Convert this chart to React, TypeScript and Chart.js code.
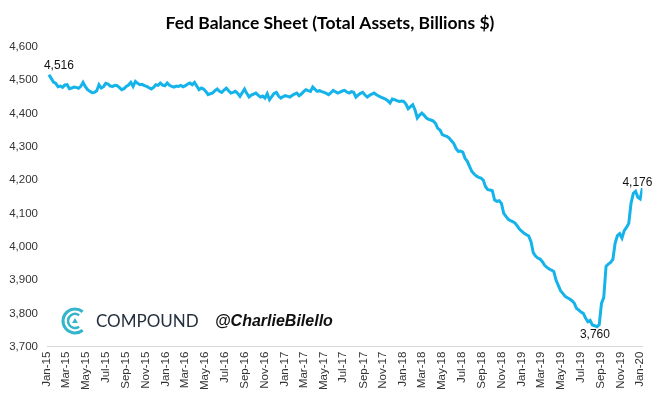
import { useEffect, useRef } from "react";
import { Chart, registerables } from "chart.js";

Chart.register(...registerables);

const chartTitle = "Fed Balance Sheet (Total Assets, Billions $)";
const brandName = "COMPOUND";
const brandHandle = "@CharlieBilello";

// first weekly observation: Wed Jan 7, 2015 (days after Jan 1, 2015)
const firstObsDay = 6;
const weekStep = 7;
const axisEndDay = 1833;

// weekly total assets, billions $ (Jan 2015 – Jan 2020)
const totalAssets: number[] = [
  4516, 4505, 4494, 4490, 4480, 4482, 4478, 4485, 4486, 4474,
  4476, 4479, 4478, 4475, 4481, 4493, 4480, 4471, 4466, 4462,
  4463, 4468, 4486, 4476, 4480, 4490, 4488, 4482, 4481, 4484,
  4483, 4477, 4471, 4474, 4481, 4485, 4493, 4481, 4496, 4490,
  4486, 4487, 4483, 4481, 4477, 4473, 4478, 4486, 4484, 4491,
  4485, 4483, 4491, 4484, 4481, 4479, 4482, 4481, 4484, 4480,
  4483, 4488, 4491, 4486, 4493, 4482, 4471, 4476, 4473, 4466,
  4456, 4459, 4461, 4468, 4473, 4466, 4463, 4470, 4476, 4468,
  4461, 4463, 4466, 4460, 4451, 4462, 4473, 4460, 4449, 4455,
  4458, 4461, 4455, 4449, 4452, 4446, 4459, 4441, 4450, 4460,
  4463, 4452, 4446, 4450, 4453, 4451, 4449, 4454, 4458, 4461,
  4453, 4458, 4465, 4471, 4468, 4466, 4479, 4472, 4466, 4468,
  4465, 4463, 4460, 4456, 4462, 4469, 4465, 4461, 4464, 4467,
  4469, 4464, 4461, 4465, 4463, 4449, 4455, 4460, 4463, 4455,
  4449, 4454, 4458, 4461, 4456, 4452, 4449, 4446, 4443, 4438,
  4431, 4443, 4441, 4438, 4436, 4437, 4436, 4428, 4414, 4420,
  4426, 4410, 4386, 4395, 4401, 4394, 4386, 4382, 4380, 4377,
  4370, 4355, 4350, 4336, 4333, 4331, 4326, 4318, 4310, 4295,
  4286, 4287, 4284, 4265, 4256, 4240, 4226, 4218, 4212, 4208,
  4206, 4200, 4180, 4171, 4170, 4168, 4140, 4136, 4138, 4130,
  4100, 4091, 4082, 4078, 4075, 4071, 4062, 4052, 4046, 4040,
  4036, 4032, 4015, 3982, 3972, 3966, 3963, 3955, 3944, 3938,
  3933, 3930, 3926, 3900, 3884, 3868, 3860, 3851, 3847, 3843,
  3838, 3831, 3815, 3810, 3804, 3800, 3786, 3775, 3779, 3765,
  3763, 3760, 3766, 3830, 3848, 3941, 3948, 3953, 3962, 4011,
  4033, 4039, 4026, 4048, 4058, 4070, 4131, 4160, 4166, 4148,
  4143, 4176,
];

const tickLabels = [
  "Jan-15", "Mar-15", "May-15", "Jul-15", "Sep-15", "Nov-15",
  "Jan-16", "Mar-16", "May-16", "Jul-16", "Sep-16", "Nov-16",
  "Jan-17", "Mar-17", "May-17", "Jul-17", "Sep-17", "Nov-17",
  "Jan-18", "Mar-18", "May-18", "Jul-18", "Sep-18", "Nov-18",
  "Jan-19", "Mar-19", "May-19", "Jul-19", "Sep-19", "Nov-19",
  "Jan-20",
];

const yMin = 3700;
const yMax = 4600;
const yStep = 100;

const dayMs = 86400000;
const tickDays = tickLabels.map(
  (_, j) => (Date.UTC(2015, 2 * j, 1) - Date.UTC(2015, 0, 1)) / dayMs
);

const fmt = (v: number) => v.toLocaleString("en-US");

const overlayPlugin = {
  id: "overlay",
  afterDraw(chart: any) {
    const ctx: CanvasRenderingContext2D = chart.ctx;
    const xs = chart.scales.x;
    const ys = chart.scales.y;
    const data = chart.data.datasets[0].data as { x: number; y: number }[];
    ctx.save();

    // title
    ctx.fillStyle = "#000";
    ctx.font = 'bold 17.5px Lato, sans-serif';
    ctx.textAlign = "center";
    ctx.textBaseline = "middle";
    ctx.fillText(chartTitle, 330, 23);

    // point annotations
    let minI = 0;
    data.forEach((d, i) => {
      if (d.y < data[minI].y) minI = i;
    });
    const lastI = data.length - 1;
    ctx.font = '12px "Liberation Sans", Arial, sans-serif';
    ctx.fillStyle = "#111";
    const lab = (i: number, dx: number, dy: number) => {
      const px = xs.getPixelForValue(data[i].x);
      const py = ys.getPixelForValue(data[i].y);
      ctx.fillText(fmt(data[i].y), px + dx, py + dy);
    };
    lab(0, 10, -9);
    lab(minI, -2, 8);
    lab(lastI, -5, -5);

    // brand logo
    const cx = 75;
    const cy = 321;
    ctx.strokeStyle = "#33B5CB";
    ctx.lineCap = "butt";
    ctx.lineWidth = 3;
    ctx.beginPath();
    ctx.arc(cx, cy, 12, Math.PI * 0.28, Math.PI * 1.72);
    ctx.stroke();
    ctx.lineWidth = 2.5;
    ctx.beginPath();
    ctx.arc(cx, cy, 7, Math.PI * 0.3, Math.PI * 1.7);
    ctx.stroke();
    ctx.fillStyle = "#33B5CB";
    ctx.beginPath();
    ctx.moveTo(cx, cy - 3);
    ctx.lineTo(cx + 3, cy + 2);
    ctx.lineTo(cx - 3, cy + 2);
    ctx.closePath();
    ctx.fill();

    ctx.fillStyle = "#25303F";
    ctx.textAlign = "left";
    ctx.font = '400 17px Lato, "Noto Sans", sans-serif';
    ctx.fillText(brandName, 96, 322);

    ctx.fillStyle = "#111";
    ctx.font = 'italic bold 16px "Liberation Sans", Arial, sans-serif';
    ctx.fillText(brandHandle, 215, 322);

    ctx.restore();
  },
};

export default function App() {
  const canvasRef = useRef<HTMLCanvasElement | null>(null);

  useEffect(() => {
    document.body.style.margin = "0";
    const canvas = canvasRef.current;
    if (!canvas) return;
    const points = totalAssets.map((v, i) => ({
      x: firstObsDay + i * weekStep,
      y: v,
    }));
    const chart = new Chart(canvas, {
      type: "line",
      data: {
        datasets: [
          {
            data: points,
            borderColor: "#14B3EA",
            borderWidth: 3,
            pointRadius: 0,
            tension: 0,
            fill: false,
          },
        ],
      },
      options: {
        animation: false,
        responsive: true,
        maintainAspectRatio: false,
        layout: { padding: { top: 46.7, right: 14, bottom: 0, left: 0 } },
        plugins: {
          legend: { display: false },
          title: { display: false },
          tooltip: { enabled: false },
        },
        scales: {
          x: {
            type: "linear",
            min: 0,
            max: axisEndDay,
            grid: { display: false, drawTicks: false },
            border: { display: true, color: "#D9D9D9", width: 1 },
            afterBuildTicks: (scale: any) => {
              scale.ticks = tickDays.map((d) => ({ value: d }));
            },
            afterFit: (scale: any) => {
              scale.height = 53.3;
            },
            ticks: {
              autoSkip: false,
              minRotation: 90,
              maxRotation: 90,
              padding: 5,
              color: "#333",
              font: { family: '"Liberation Sans", Arial, sans-serif', size: 11.5 },
              callback: (_v: any, i: number) => tickLabels[i],
            },
          },
          y: {
            min: yMin,
            max: yMax,
            grid: { display: false, drawTicks: false },
            border: { display: false },
            afterFit: (scale: any) => {
              scale.width = 47;
            },
            ticks: {
              stepSize: yStep,
              padding: 9,
              color: "#333",
              font: { family: '"Liberation Sans", Arial, sans-serif', size: 11.5 },
              callback: (v: any) => fmt(Number(v)),
            },
          },
        },
      },
      plugins: [overlayPlugin],
    });
    return () => chart.destroy();
  }, []);

  return (
    <div style={{ width: 659, height: 400, position: "relative" }}>
      <canvas ref={canvasRef} />
    </div>
  );
}
